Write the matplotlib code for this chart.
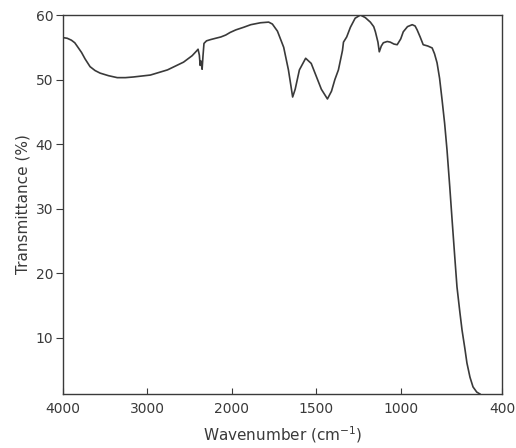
import numpy as np
import matplotlib
matplotlib.use("Agg")
import matplotlib.pyplot as plt

# wavenumber (cm-1) and transmittance (%)
wavenumber = [4000, 3950, 3900, 3860, 3833, 3780, 3738, 3679, 3620, 3560, 3460,
              3357, 3260, 3167, 2965, 2762, 2572, 2470, 2420, 2400, 2385, 2375,
              2368, 2360, 2352, 2342, 2330, 2300, 2250, 2191, 2130, 2072, 2020,
              1976, 1930, 1888, 1830, 1782, 1760, 1730, 1693, 1665, 1650, 1640,
              1625, 1600, 1563, 1530, 1500, 1470, 1434, 1410, 1390, 1369, 1345,
              1339, 1320, 1298, 1270, 1239, 1210, 1180, 1160, 1150, 1135, 1127,
              1115, 1103, 1080, 1062, 1040, 1021, 1000, 985, 960, 932, 915, 903,
              885, 867, 840, 814, 800, 785, 770, 755, 740, 726, 710, 696, 680,
              667, 650, 637, 620, 608, 590, 572, 550, 531]
transmittance = [56.5, 56.4, 56.1, 55.7, 55.2, 54.2, 53.2, 52.0, 51.4, 51.0,
                 50.6, 50.3, 50.3, 50.4, 50.7, 51.5, 52.7, 53.7, 54.4, 54.7,
                 53.8, 52.2, 52.9, 52.4, 51.6, 53.6, 55.6, 56.0, 56.2, 56.4,
                 56.6, 56.9, 57.3, 57.7, 58.1, 58.5, 58.8, 58.9, 58.6, 57.5,
                 55.0, 51.5, 49.0, 47.3, 48.5, 51.5, 53.3, 52.5, 50.5, 48.5,
                 47.0, 48.2, 50.0, 51.5, 54.5, 55.8, 56.6, 58.1, 59.5, 60.0,
                 59.6, 58.9, 58.2, 57.4, 55.8, 54.3, 55.2, 55.7, 55.9, 55.8,
                 55.5, 55.4, 56.3, 57.4, 58.2, 58.5, 58.3, 57.7, 56.6, 55.4,
                 55.2, 54.9, 54.0, 52.6, 50.2, 46.8, 43.2, 39.1, 33.5, 28.3,
                 22.5, 17.9, 14.0, 11.2, 8.3, 6.1, 3.9, 2.4, 1.6, 1.3]

xticks = [4000, 3000, 2000, 1500, 1000, 400]
yticks = [10, 20, 30, 40, 50, 60]


# the spectrometer halves the scale above 2000 cm-1
def fwd(w):
    w = np.asarray(w, dtype=float)
    return np.where(w > 2000, 2000 + (w - 2000) / 2, w)


def inv(u):
    u = np.asarray(u, dtype=float)
    return np.where(u > 2000, 2000 + (u - 2000) * 2, u)


ink = "#3a3a3a"
plt.rcParams["font.family"] = "DejaVu Sans"

fig = plt.figure(figsize=(5.16, 4.48), dpi=100)
ax = fig.add_axes([0.122, 0.1205, 0.851, 0.846])

ax.plot(wavenumber, transmittance, color=ink, lw=1.2)

ax.set_xscale("function", functions=(fwd, inv))
ax.set_xlim(4000, 400)
ax.set_ylim(1.3, 60)
ax.set_xticks(xticks)
ax.set_xticklabels([str(t) for t in xticks])
ax.set_yticks(yticks)

for s in ax.spines.values():
    s.set_color(ink)
    s.set_linewidth(1.0)
ax.tick_params(axis="x", direction="in", length=4, colors=ink, labelsize=10, pad=6)
ax.tick_params(axis="y", direction="out", length=5, colors=ink, labelsize=10, pad=2)

ax.set_xlabel("Wavenumber (cm$^{-1}$)", fontsize=11, color=ink, labelpad=6)
ax.set_ylabel("Transmittance (%)", fontsize=11, color=ink, labelpad=4)

fig.savefig("out.png", dpi=100)
